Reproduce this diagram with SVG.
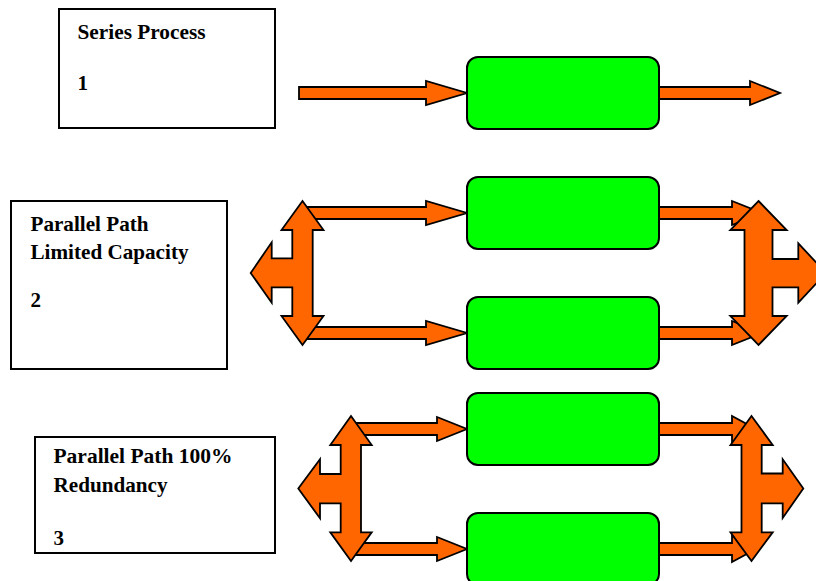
<svg xmlns="http://www.w3.org/2000/svg" width="816" height="581" viewBox="0 0 816 581">
  <style>
    .label { fill: #ffffff; stroke: #000000; stroke-width: 2; }
    .txt { font-family: "Liberation Serif", "Times New Roman", serif; font-weight: bold; font-size: 21px; fill: #000000; }
    .proc { fill: #00ff00; stroke: #000000; stroke-width: 2; }
    .arrow { fill: #ff6600; stroke: #000000; stroke-width: 1.8; stroke-linejoin: miter; }
  </style>
  <rect width="816" height="581" fill="#ffffff"/>

  <!-- text labels -->
  <g id="label-series">
    <rect class="label" x="59" y="9" width="216" height="119"/>
    <text class="txt" x="77.5" y="38.5" textLength="128" lengthAdjust="spacingAndGlyphs">Series Process</text>
    <text class="txt" x="77.5" y="90">1</text>
  </g>
  <g id="label-parallel-limited">
    <rect class="label" x="11" y="201" width="216" height="168"/>
    <text class="txt" x="30.5" y="230.5" textLength="118" lengthAdjust="spacingAndGlyphs">Parallel Path</text>
    <text class="txt" x="30.5" y="258.5" textLength="158" lengthAdjust="spacingAndGlyphs">Limited Capacity</text>
    <text class="txt" x="30.5" y="306.5">2</text>
  </g>
  <g id="label-parallel-redundant">
    <rect class="label" x="35" y="437" width="240" height="116"/>
    <text class="txt" x="53.5" y="462.5" textLength="179" lengthAdjust="spacingAndGlyphs">Parallel Path 100%</text>
    <text class="txt" x="53.5" y="491.5" textLength="114" lengthAdjust="spacingAndGlyphs">Redundancy</text>
    <text class="txt" x="53.5" y="545">3</text>
  </g>

  <!-- connectors: block arrows and splitter/joiner crosses -->
  <g id="connectors">
    <!-- row 1 -->
    <polygon class="arrow" points="299,87 426,87 426,81 467,93 426,105 426,99 299,99"/>
    <polygon class="arrow" points="655,87 750,87 750,81 780,93 750,105 750,99 655,99"/>
    <!-- row 2 -->
    <polygon class="arrow" points="300,207 426,207 426,201 467,213 426,225 426,219 300,219"/>
    <polygon class="arrow" points="300,327 426,327 426,321 467,333 426,345 426,339 300,339"/>
    <polygon class="arrow" points="655,207 732,207 732,201 762,213 732,225 732,219 655,219"/>
    <polygon class="arrow" points="655,327 732,327 732,321 762,333 732,345 732,339 655,339"/>
    <polygon class="arrow" points="302.5,201 323.5,230 312.7,230 312.7,316 323.5,316 302.5,345 281.5,316 292.3,316 292.3,287.3 271.7,287.3 271.7,302.7 250.7,273 271.7,242.3 271.7,258.3 292.3,258.3 292.3,230 281.5,230"/>
    <polygon class="arrow" points="758.5,201 786.7,230 772.5,230 772.5,259 798.3,259 798.3,243.3 826,273 798.3,302.7 798.3,287.3 772.5,287.3 772.5,316 786.7,316 758.5,345 730.3,316 744.5,316 744.5,230 730.3,230"/>
    <!-- row 3 -->
    <polygon class="arrow" points="350,423 437,423 437,417 467,429 437,441 437,435 350,435"/>
    <polygon class="arrow" points="350,543 437,543 437,537 467,549 437,561 437,555 350,555"/>
    <polygon class="arrow" points="655,423 732,423 732,416 756,429 732,442 732,435 655,435"/>
    <polygon class="arrow" points="655,543 732,543 732,536 756,549 732,562 732,555 655,555"/>
    <polygon class="arrow" points="351,416 371.7,445 361,445 361,532.3 371.7,532.3 351,561 330.3,532.3 340.7,532.3 340.7,503.3 320,503.3 320,518.3 298.3,488.5 320,459.3 320,474 340.7,474 340.7,445 330.3,445"/>
    <polygon class="arrow" points="751.5,416 772.7,445 761.7,445 761.7,473.5 782.7,473.5 782.7,459.3 803.3,488.5 782.7,518 782.7,503.3 761.7,503.3 761.7,532.3 772.7,532.3 751.5,561 730.5,532.3 741.5,532.3 741.5,445 730.5,445"/>
  </g>

  <!-- process blocks -->
  <g id="proc-series"><rect class="proc" x="467" y="57" width="192" height="72" rx="11"/></g>
  <g id="proc-limited-a"><rect class="proc" x="467" y="177" width="192" height="72" rx="11"/></g>
  <g id="proc-limited-b"><rect class="proc" x="467" y="297" width="192" height="72" rx="11"/></g>
  <g id="proc-redundant-a"><rect class="proc" x="467" y="393" width="192" height="72" rx="11"/></g>
  <g id="proc-redundant-b"><rect class="proc" x="467" y="513" width="192" height="72" rx="11"/></g>
</svg>
